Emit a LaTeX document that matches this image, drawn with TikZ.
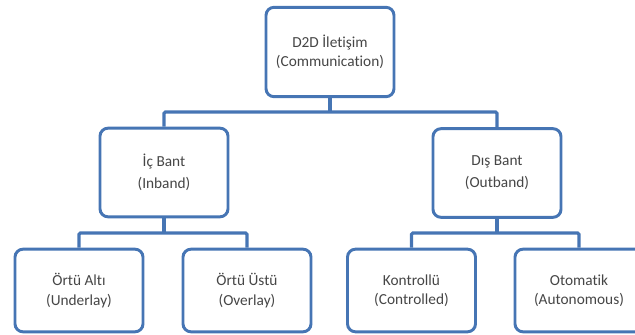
\documentclass[tikz,border=0pt]{standalone}
\usepackage{fontspec}
\setmainfont[Ligatures=NoCommon]{Carlito}
\usepackage{tikz}
\definecolor{boxblue}{RGB}{70,117,180}
\definecolor{txtgray}{RGB}{70,70,70}

\begin{document}
\begin{tikzpicture}[x=0.75pt,y=-0.75pt,
    kutu/.style={draw=boxblue,line width=2.2pt,rounded corners=6pt,fill=white,
        minimum width=96pt,align=center,text=txtgray,
        font=\fontsize{11.5}{14.5}\selectfont},
    ust/.style={kutu,minimum height=67pt},
    orta/.style={kutu,minimum height=66.5pt},
    alt/.style={kutu,minimum height=62pt},
    bag/.style={draw=boxblue,line width=2.4pt,rounded corners=1pt}]
    \useasboundingbox (0,0) rectangle (635,335);
    \clip (0,0) rectangle (635,335);
    \node[ust] (iletisim) at (330,52) {D2D İletişim\\(Communication)};
    \node[orta] (icbant) at (164,172.5) {İç Bant\\[2pt](Inband)};
    \node[orta] (disbant) at (497,173) {Dış Bant\\[2pt](Outband)};
    \node[alt] (ortualti) at (79,290.5) {Örtü Altı\\(Underlay)};
    \node[alt] (ortuustu) at (247,290.5) {Örtü Üstü\\(Overlay)};
    \node[alt] (kontrollu) at (411.5,290.5) {Kontrollü\\(Controlled)};
    \node[alt] (otomatik) at (579,290.5) {Otomatik\\(Autonomous)};
    \coordinate (bus1) at (330,112);
    \coordinate (bus2) at (164,233);
    \coordinate (bus3) at (497,233);
    \draw[bag] (iletisim.south) -- (bus1);
    \draw[bag] (icbant.north) |- (bus1) -| (disbant.north);
    \draw[bag] (icbant.south) -- (bus2);
    \draw[bag] (ortualti.north) |- (bus2) -| (ortuustu.north);
    \draw[bag] (disbant.south) -- (bus3);
    \draw[bag] (kontrollu.north) |- (bus3) -| (otomatik.north);
\end{tikzpicture}
\end{document}
